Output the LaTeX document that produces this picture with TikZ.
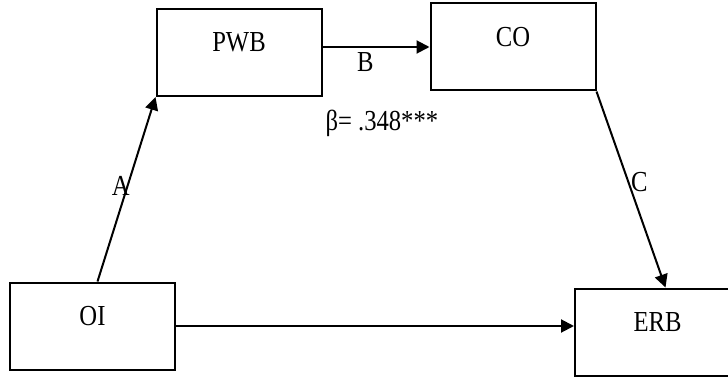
\documentclass[tikz,border=0pt]{standalone}
\usepackage{fontspec}
\setmainfont{Liberation Serif}[FakeStretch=0.85]
\usetikzlibrary{arrows.meta}

\begin{document}
\begin{tikzpicture}[x=1pt,y=-1pt,line width=2pt,
    font=\fontsize{29}{33}\selectfont,
    >={Triangle[length=13pt,width=13pt]},
    var/.style={draw,shape=rectangle,inner sep=0pt,minimum width=165pt,
      text height=43pt,text depth=44pt},
    lbl/.style={inner sep=0pt}]
  \useasboundingbox (0,0) rectangle (728,377);
  \node[var] (pwb) at (239,52.5) {PWB};
  \node[var] (co) at (513,47) {CO};
  \node[var] (oi) at (92.5,326) {OI};
  \node[var] (erb) at (657.5,332) {ERB};
  \draw[->] ([xshift=5pt]oi.north) -- (pwb.south west)
    node[lbl,pos=.52,anchor=east,xshift=3pt] {A};
  \draw[->] (pwb.east |- co.west) -- (co.west)
    node[lbl,pos=.4,anchor=north,yshift=-5pt] {B};
  \draw[->] (co.south east) -- ([xshift=8pt]erb.north)
    node[lbl,pos=.46,anchor=west,xshift=2pt] {C};
  \draw[->] (oi.east) -- (oi.east -| erb.west);
  \node[lbl,anchor=north west] (beta) at ([shift={(2,12)}]pwb.south east) {β= .348***};
\end{tikzpicture}
\end{document}
